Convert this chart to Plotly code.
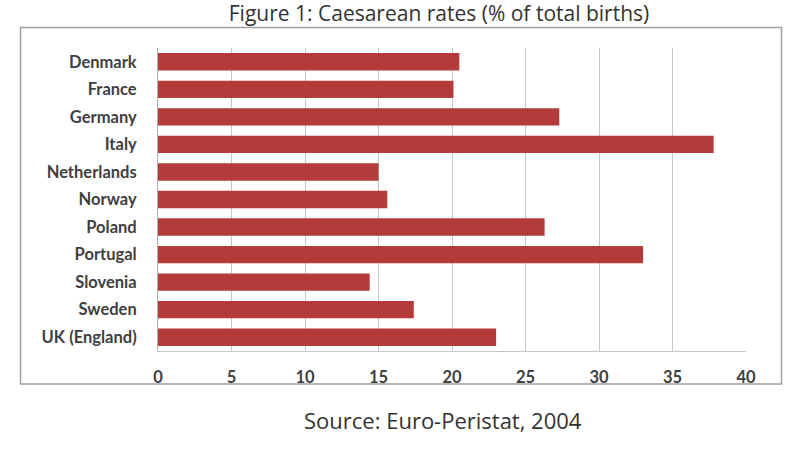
import plotly.graph_objects as go

countries = ["Denmark", "France", "Germany", "Italy", "Netherlands", "Norway",
             "Poland", "Portugal", "Slovenia", "Sweden", "UK (England)"]
rates = [20.5, 20.1, 27.3, 37.8, 15.0, 15.6, 26.3, 33.0, 14.4, 17.4, 23.0]
x_ticks = [0, 5, 10, 15, 20, 25, 30, 35, 40]

W, H = 793, 462
L, R, T, B = 158, 47, 48, 111
pw, ph = W - L - R, H - T - B

def px_x(p):
    return (p - L) / pw

def px_y(p):
    return (H - B - p) / ph

tick_font = dict(family="Lato", size=16.5, color="#404040", weight="bold")

fig = go.Figure(go.Bar(
    x=rates, y=countries, orientation="h",
    marker=dict(color="#B33B3A", line=dict(width=0)),
    width=0.63,
))

fig.update_layout(
    width=W, height=H,
    margin=dict(l=L, r=R, t=T, b=B),
    paper_bgcolor="white", plot_bgcolor="white",
    showlegend=False,
    title=dict(text="Figure 1: Caesarean rates (% of total births)",
               x=439 / W, xanchor="center", y=1 - 14 / H, yanchor="middle",
               font=dict(family="Open Sans", size=21, color="#333333")),
    xaxis=dict(range=[0, 40], tickvals=x_ticks, showgrid=True,
               gridcolor="#C6C6C6", gridwidth=1, zeroline=False,
               showline=True, linecolor="#C6C6C6", linewidth=1,
               ticks="", ticklabelstandoff=11,
               tickfont=tick_font, fixedrange=True),
    yaxis=dict(autorange="reversed", showgrid=False, showline=True,
               linecolor="#B0B0B0", linewidth=1, ticks="",
               ticklabelstandoff=17, tickfont=tick_font),
    shapes=[dict(type="rect", xref="paper", yref="paper",
                 x0=px_x(20.5), x1=px_x(781.5), y0=px_y(384), y1=px_y(27.5),
                 line=dict(color="#A0A0A0", width=1.5), layer="below")],
    annotations=[dict(text="Source: Euro-Peristat, 2004", xref="paper", yref="paper",
                      x=px_x(443), y=px_y(420), xanchor="center", yanchor="middle",
                      showarrow=False,
                      font=dict(family="Open Sans", size=22, color="#333333"))],
)

fig.write_html("out.html")
